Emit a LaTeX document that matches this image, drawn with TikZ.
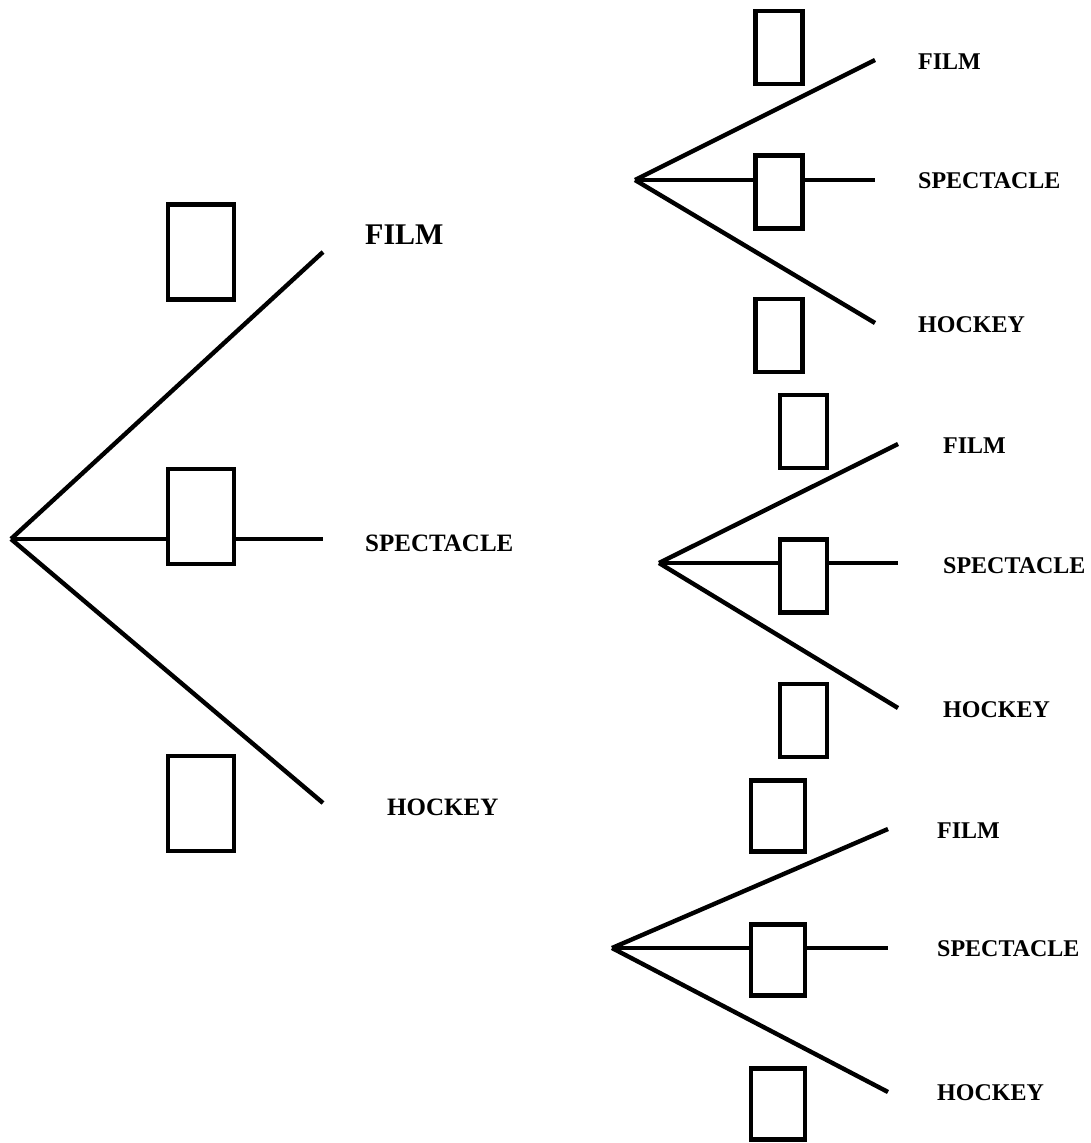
\documentclass[tikz,border=0pt]{standalone}
\usepackage{fontspec}
\setmainfont{Liberation Serif}
\begin{document}
\begin{tikzpicture}[x=1pt,y=-1pt,
  branch/.style={line width=4.4pt},
  tally/.style={draw, line width=4.4pt, fill=white, rectangle, inner sep=0pt},
  bigtally/.style={tally, minimum width=66pt, minimum height=95pt},
  smalltally/.style={tally, minimum width=47pt, minimum height=73pt},
  wide/.style={tally, minimum width=54pt, minimum height=71pt},
  lbl/.style={anchor=base west, inner sep=0pt, font=\bfseries\fontsize{24}{28}\selectfont},
  mainlbl/.style={lbl, font=\bfseries\fontsize{25}{30}\selectfont},
  toplbl/.style={lbl, font=\bfseries\fontsize{30}{36}\selectfont}]
\useasboundingbox (0,0) rectangle (1090,1143);

% first-stage tree
\coordinate (r0) at (11,539);
\coordinate (r0a) at (323,252);
\coordinate (r0b) at (323,539);
\coordinate (r0c) at (323,803);
\draw[branch] (r0) -- (r0a);
\draw[branch] (r0) -- (r0b);
\draw[branch] (r0) -- (r0c);
\node[bigtally] (b0a) at (201,252) {};
\node[bigtally] (b0b) at (201,516.5) {};
\node[bigtally] (b0c) at (201,803.5) {};
\node[toplbl] (l0a) at (365,244) {FILM};
\node[mainlbl] (l0b) at (365,551) {SPECTACLE};
\node[mainlbl] (l0c) at (387,815) {HOCKEY};

% second stage, upper tree
\coordinate (r1) at (635,180);
\coordinate (r1a) at (875,60);
\coordinate (r1b) at (875,180);
\coordinate (r1c) at (875,323);
\draw[branch] (r1) -- (r1a);
\draw[branch] (r1) -- (r1b);
\draw[branch] (r1) -- (r1c);
\node[smalltally] (b1a) at (779,47.5) {};
\node[smalltally] (b1b) at (779,192) {};
\node[smalltally] (b1c) at (779,335.5) {};
\node[lbl] (l1a) at (918,69) {FILM};
\node[lbl] (l1b) at (918,188) {SPECTACLE};
\node[lbl] (l1c) at (918,332) {HOCKEY};

% second stage, middle tree
\coordinate (r2) at (659,563);
\coordinate (r2a) at (898,444);
\coordinate (r2b) at (898,563);
\coordinate (r2c) at (898,708);
\draw[branch] (r2) -- (r2a);
\draw[branch] (r2) -- (r2b);
\draw[branch] (r2) -- (r2c);
\node[smalltally] (b2a) at (803.5,431.5) {};
\node[smalltally] (b2b) at (803.5,576) {};
\node[smalltally] (b2c) at (803.5,720.5) {};
\node[lbl] (l2a) at (943,453) {FILM};
\node[lbl] (l2b) at (943,573) {SPECTACLE};
\node[lbl] (l2c) at (943,717) {HOCKEY};

% second stage, lower tree
\coordinate (r3) at (612,948);
\coordinate (r3a) at (888,829);
\coordinate (r3b) at (888,948);
\coordinate (r3c) at (888,1092);
\draw[branch] (r3) -- (r3a);
\draw[branch] (r3) -- (r3b);
\draw[branch] (r3) -- (r3c);
\node[wide] (b3a) at (778,816) {};
\node[wide] (b3b) at (778,960) {};
\node[wide] (b3c) at (778,1104) {};
\node[lbl] (l3a) at (937,838) {FILM};
\node[lbl] (l3b) at (937,956) {SPECTACLE};
\node[lbl] (l3c) at (937,1100) {HOCKEY};
\end{tikzpicture}
\end{document}
